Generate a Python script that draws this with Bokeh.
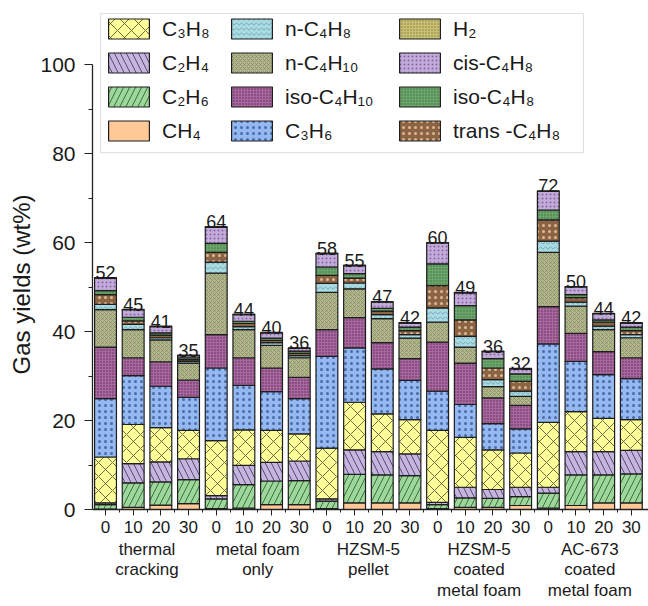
import numpy as np
from bokeh.plotting import figure
from bokeh.models import (ColumnDataSource, Legend, LegendItem, BoxAnnotation, Title,
                          FixedTicker, Range1d, LinearAxis)
from bokeh.embed import file_html
from bokeh.resources import INLINE
from bokeh.core.properties import value

# ---------------- data ----------------
group_lines = [["thermal", "cracking"], ["metal foam", "only"], ["HZSM-5", "pellet"],
               ["HZSM-5", "coated", "metal foam"], ["AC-673", "coated", "metal foam"]]
times = ["0", "10", "20", "30"]
total_labels = ["52", "45", "41", "35", "64", "44", "40", "36", "58", "55",
                "47", "42", "60", "49", "36", "32", "72", "50", "44", "42"]

ch4 = [0.1, 0.5, 1.0, 1.3, 0.2, 0.3, 1.1, 1.1, 0.2, 1.5, 1.5, 1.5, 0.2, 0.5, 0.5, 0.9, 0.3, 0.9, 1.5, 1.5]
c2h6 = [1.0, 5.5, 5.2, 5.4, 2.2, 5.3, 5.3, 5.4, 1.7, 6.4, 6.3, 6.1, 0.9, 2.1, 2.0, 2.0, 3.4, 6.9, 6.3, 6.5]
c2h4 = [0.4, 4.3, 4.5, 4.7, 0.7, 4.3, 4.2, 4.4, 0.5, 5.5, 5.2, 4.9, 0.5, 2.4, 2.0, 2.1, 1.3, 5.2, 5.2, 5.3]
c3h8 = [10.3, 8.8, 7.7, 6.4, 12.4, 8.0, 7.2, 6.1, 11.4, 10.7, 8.5, 7.7, 16.2, 11.2, 8.9, 7.7, 14.6, 9.0, 7.5, 6.9]
c3h6 = [13.1, 11.0, 9.3, 7.4, 16.3, 10.0, 8.7, 7.9, 20.6, 12.2, 10.1, 8.8, 8.8, 7.4, 5.9, 5.4, 17.6, 11.3, 9.8, 9.2]
iso_c4h10 = [11.6, 4.0, 5.5, 3.9, 7.5, 6.2, 5.3, 4.8, 6.0, 6.8, 5.9, 4.9, 11.0, 9.3, 5.8, 5.3, 8.4, 6.3, 5.2, 4.7]
n_c4h10 = [8.4, 6.3, 4.9, 3.8, 13.8, 6.3, 5.1, 4.4, 8.4, 6.5, 5.4, 4.6, 4.5, 3.6, 2.5, 2.0, 12.2, 6.1, 4.9, 4.5]
n_c4h8 = [1.2, 1.2, 0.5, 0.4, 2.5, 0.7, 0.6, 0.5, 2.0, 1.3, 0.9, 0.8, 3.2, 2.4, 1.6, 1.2, 2.5, 0.9, 0.8, 0.7]
trans_c4h8 = [2.2, 0.8, 0.6, 0.4, 2.2, 0.7, 0.5, 0.5, 1.8, 1.1, 0.8, 0.9, 5.0, 3.7, 2.6, 2.2, 4.8, 1.0, 0.9, 0.9]
iso_c4h8 = [0.9, 0.8, 0.5, 0.4, 2.0, 0.5, 0.5, 0.5, 1.9, 1.0, 0.6, 0.8, 4.9, 3.2, 2.1, 1.7, 2.2, 0.7, 0.5, 0.8]
cis_c4h8 = [2.8, 1.7, 1.4, 0.5, 3.6, 1.5, 1.2, 0.6, 3.0, 1.8, 1.4, 0.9, 4.7, 2.9, 1.6, 1.1, 4.2, 1.7, 1.4, 0.9]
h2 = [0.1, 0.1, 0.1, 0.1, 0.2, 0.1, 0.1, 0.1, 0.1, 0.1, 0.1, 0.1, 0.1, 0.1, 0.1, 0.1, 0.1, 0.1, 0.1, 0.1]

species = ["ch4", "c2h6", "c2h4", "c3h8", "c3h6", "iso_c4h10", "n_c4h10",
           "n_c4h8", "trans_c4h8", "iso_c4h8", "cis_c4h8", "h2"]
series = [ch4, c2h6, c2h4, c3h8, c3h6, iso_c4h10, n_c4h10,
          n_c4h8, trans_c4h8, iso_c4h8, cis_c4h8, h2]
legend_names = {"ch4": "CH\u2084", "c2h6": "C\u2082H\u2086", "c2h4": "C\u2082H\u2084",
                "c3h8": "C\u2083H\u2088", "c3h6": "C\u2083H\u2086",
                "iso_c4h10": "iso-C\u2084H\u2081\u2080", "n_c4h10": "n-C\u2084H\u2081\u2080",
                "n_c4h8": "n-C\u2084H\u2088", "trans_c4h8": "trans -C\u2084H\u2088",
                "iso_c4h8": "iso-C\u2084H\u2088", "cis_c4h8": "cis-C\u2084H\u2088", "h2": "H\u2082"}

# ---------------- styles ----------------
style = {
    "ch4":        dict(fill_color="#FFC896", hatch_pattern=" ", hatch_color="#000000", hatch_scale=12, hatch_weight=1),
    "c2h6":       dict(fill_color="#9BD89A", hatch_pattern="/", hatch_color="#2f4f2f", hatch_scale=12, hatch_weight=0.8),
    "c2h4":       dict(fill_color="#C5B4E0", hatch_pattern="\\", hatch_color="#3c3450", hatch_scale=12, hatch_weight=0.8),
    "c3h8":       dict(fill_color="#FFFF99", hatch_pattern="x", hatch_color="#4a4a30", hatch_scale=14, hatch_weight=0.8),
    "c3h6":       dict(fill_color="#94B8F0", hatch_pattern=".", hatch_color="#4d6aa8", hatch_scale=6, hatch_weight=1.2),
    "iso_c4h10":  dict(fill_color="#A8679F", hatch_pattern=".", hatch_color="#5a2a55", hatch_scale=3, hatch_weight=1.0),
    "n_c4h10":    dict(fill_color="#B4B98D", hatch_pattern="x", hatch_color="#6e7450", hatch_scale=4, hatch_weight=0.5),
    "n_c4h8":     dict(fill_color="#AADAE2", hatch_pattern="v", hatch_color="#4a8c9c", hatch_scale=5, hatch_weight=0.6),
    "trans_c4h8": dict(fill_color="#8C6444", hatch_pattern=".", hatch_color="#d9b994", hatch_scale=6, hatch_weight=1.5),
    "iso_c4h8":   dict(fill_color="#6DA66D", hatch_pattern=".", hatch_color="#3a6e3a", hatch_scale=3, hatch_weight=1.0),
    "cis_c4h8":   dict(fill_color="#C2AADA", hatch_pattern=".", hatch_color="#86689f", hatch_scale=4, hatch_weight=1.0),
    "h2":         dict(fill_color="#C9C174", hatch_pattern=".", hatch_color="#847a3a", hatch_scale=3, hatch_weight=1.0),
}

FONT = "Liberation Sans"
TXT = "#1a1a1a"
AX = "#222222"

n_bars = len(total_labels)
xpos = np.arange(1, n_bars + 1, dtype=float)
data = {"x": xpos}
for name, vals in zip(species, series):
    data[name] = vals
src = ColumnDataSource(data)

W, H = 648, 606
PX_PER_UNIT = 4.45
FRAME_H = 509
p = figure(width=W, height=H, output_backend="svg", toolbar_location=None,
           x_range=Range1d(0.53, 20.62), y_range=Range1d(0, FRAME_H / PX_PER_UNIT),
           min_border_left=92, min_border_right=0, min_border_top=0, min_border_bottom=H - FRAME_H)
p.outline_line_color = None
p.grid.visible = False
p.background_fill_color = "white"

renderers = p.vbar_stack(species, x="x", width=0.79, source=src,
                         fill_color=[style[s]["fill_color"] for s in species],
                         hatch_pattern=[style[s]["hatch_pattern"] for s in species],
                         hatch_color=[style[s]["hatch_color"] for s in species],
                         hatch_scale=[style[s]["hatch_scale"] for s in species],
                         hatch_weight=[style[s]["hatch_weight"] for s in species],
                         line_color="#1e1e1e", line_width=1.2)

totals = np.sum(np.array(series), axis=0)
tsrc = ColumnDataSource(dict(x=xpos, y=totals, t=total_labels))
p.text(x="x", y="y", text="t", source=tsrc, text_align="center", text_baseline="alphabetic",
       y_offset=-5, text_font=value(FONT), text_font_size="18px", text_color=TXT)

# ---------------- axes ----------------
xa = p.xaxis[0]
xa.ticker = FixedTicker(ticks=list(xpos), minor_ticks=list(xpos[:-1] + 0.5))
xa.major_label_overrides = {float(v): times[i % len(times)] for i, v in enumerate(xpos)}
xa.major_tick_out = 6
xa.major_tick_in = 0
xa.minor_tick_out = 3
xa.minor_tick_in = 0
xa.major_label_standoff = 5
xa.major_label_text_font = FONT
xa.major_label_text_font_size = "17px"
xa.major_label_text_color = TXT
xa.axis_line_width = 1.3
xa.axis_line_color = AX
xa.major_tick_line_color = AX
xa.minor_tick_line_color = AX

# group names: a second, line-less axis below the first
gsize = len(times)
gcenters = [float(np.mean(xpos[g * gsize:(g + 1) * gsize])) for g in range(len(group_lines))]
gax = LinearAxis(ticker=FixedTicker(ticks=gcenters, minor_ticks=[]),
                 major_label_overrides={c: "\n".join(l) for c, l in zip(gcenters, group_lines)},
                 axis_line_color=None, major_tick_line_color=None, minor_tick_line_color=None,
                 major_tick_out=0, major_tick_in=0, major_label_standoff=4,
                 major_label_text_font=FONT, major_label_text_font_size="17px",
                 major_label_text_line_height=1.1, major_label_text_color=TXT)
p.add_layout(gax, "below")

ya = p.yaxis[0]
ya.ticker = FixedTicker(ticks=[0, 20, 40, 60, 80, 100], minor_ticks=[10, 30, 50, 70, 90])
ya.bounds = (0, 100)
ya.major_tick_out = 8
ya.major_tick_in = 0
ya.minor_tick_out = 4
ya.minor_tick_in = 0
ya.major_label_standoff = 9
ya.major_label_text_font = FONT
ya.major_label_text_font_size = "21px"
ya.major_label_text_color = TXT
ya.axis_line_width = 1.3
ya.axis_line_color = AX
ya.major_tick_line_color = AX
ya.minor_tick_line_color = AX

# y-axis title as a side title, shifted to the middle of the 0-100 span
p.add_layout(Title(text="Gas yields (wt%)", align="left", offset=135, standoff=5,
                   text_font=FONT, text_font_size="24px", text_font_style="normal",
                   text_color=TXT), "left")

# ---------------- legend ----------------
p.add_layout(BoxAnnotation(left=0.82, right=18.27, top=111.46, bottom=80.2,
                           fill_color="white", fill_alpha=1.0,
                           line_color="#9a9a9a", line_width=1.2))
rmap = dict(zip(species, renderers))
legend_cols = [["c3h8", "c2h4", "c2h6", "ch4"],
               ["n_c4h8", "n_c4h10", "iso_c4h10", "c3h6"],
               ["h2", "cis_c4h8", "iso_c4h8", "trans_c4h8"]]
col_x = [11, 134, 302]
for cx, col in zip(col_x, legend_cols):
    lg = Legend(items=[LegendItem(label=legend_names[s], renderers=[rmap[s]]) for s in col],
                location=(cx, 366), orientation="vertical",
                glyph_width=51, glyph_height=25, label_height=25, spacing=9, padding=0,
                label_standoff=8, margin=0,
                label_text_font=FONT, label_text_font_size="21px", label_text_color=TXT,
                background_fill_alpha=0, border_line_alpha=0)
    p.add_layout(lg, "center")

open("out.html", "w").write(file_html(p, INLINE))
